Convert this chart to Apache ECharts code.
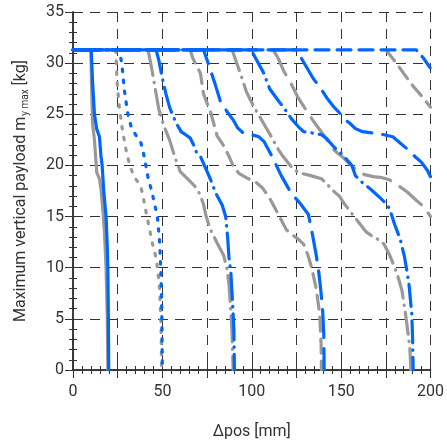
<!DOCTYPE html>
<html><head><meta charset="utf-8">
<script src="https://cdn.jsdelivr.net/npm/echarts@6/dist/echarts.min.js"></script>
<style>html,body{margin:0;padding:0;background:#fff}#c{width:447px;height:446px}</style>
</head><body><div id="c"></div>
<script>
// ---- data ----
const xLabelValues = [0, 50, 100, 150, 200];
const yLabelValues = [0, 5, 10, 15, 20, 25, 30, 35];

const graySolid = [[10,31.3],[10.5,27],[11,24],[12,22.5],[13,20],[13.3,19.3],[14.8,18.7],[15.7,17.6],[17,15],[17.6,13.4],[18.5,10],[19.2,5],[19.5,0]];
const blueSolid = [[0,31.3],[10.2,31.3],[11,28],[12,25],[13.2,23.6],[14.8,22.8],[15.6,21],[16.3,20],[17.2,17.5],[18.5,15],[19.2,12],[19.5,10],[19.8,5],[20,0]];

const grayDotted = [[24,31.3],[24.1,30.8],[24.6,28.3],[25.9,25.7],[27.4,23.8],[29.3,21.8],[31.9,19.9],[34.3,18.9],[38,17.9],[39.3,16.9],[40.7,15.6],[42.2,14.3],[44.4,12.4],[46.3,11.1],[47.4,9.8],[48.5,7.8],[48.9,5.9],[49.3,3.9],[49.6,0]];
const blueDotted = [[0,31.3],[26,31.3],[27.4,29.8],[28.7,27.4],[30.6,25.1],[32.5,23.8],[34.3,23.2],[38,22.2],[39.8,20.9],[42.2,18.6],[43.9,17.6],[47.2,15],[48.5,12.4],[49.1,9.8],[49.6,6.8],[50,0]];

const grayDashDotA = [[42,31.3],[44,29.5],[46,27.5],[48,25.5],[51,23.8],[54,22.5],[57,20.8],[60,19.4],[64,18.7],[68,18],[71,17.2],[73,16.2],[74.5,15],[77,13.7],[81,12.3],[84.3,11.2],[86,10],[87.2,8.5],[88.2,6],[89,3.5],[89.6,0]];
const blueDashDotA = [[0,31.3],[46.5,31.3],[48,30.3],[50,28.5],[52,27],[54,25.7],[56,24.8],[58.5,23.9],[60.5,23.3],[63,23],[65.5,22.7],[67.5,22],[69,21.3],[71.5,20.8],[74,19.8],[77,18.6],[79.8,17.3],[83.5,16.1],[85.4,15],[86.5,13],[87.2,11.1],[88.3,9.5],[89.3,6.5],[90,4],[90.3,0]];

const grayDashedA = [[65.5,31.3],[67,30.5],[71.3,29],[73,27],[77,25.2],[80.6,22.9],[84,22],[87,21],[90,19.8],[93,19.2],[97,18.8],[102,18.4],[106,17.8],[110,16.8],[114,15.5],[119.4,13.7],[122,13.3],[126,12.8],[129,12.3],[131.5,11.2],[133.5,10],[136,8],[138,5.5],[138.8,2.5],[139,0]];
const blueDashedA = [[0,31.3],[73,31.3],[76,29.8],[79.6,27.9],[82.4,26.3],[86,25.3],[89.8,24.4],[92,23.7],[95,23.2],[100,23],[104,22.8],[107,22.3],[111,21],[116.5,19],[122,17.3],[127,16.3],[131.7,15.2],[134,13.2],[135.8,11.5],[137.2,10],[138.5,8],[139.6,6],[140.3,3.5],[140.5,0]];

const grayDashDotB = [[89,31.3],[91,30.3],[94,28.8],[97,27.2],[101,25.8],[106,24.3],[111,22.8],[114,21.8],[117,21],[122,19.9],[126,19.3],[133,19],[139,18.7],[142,18.2],[145,17.6],[149,17],[152,16.2],[156,15.3],[160,14.4],[164,13.5],[168,13],[171.5,12.7],[174,12.3],[177,11.3],[180,10],[182,9],[184,7.8],[186,5.5],[187.5,3.5],[188.5,2],[189,0]];
const blueDashDotB = [[0,31.3],[99.6,31.3],[103,30.2],[106.5,29.1],[110,27.5],[115,26.3],[118.5,25.5],[122,24.6],[126,23.8],[129,23.3],[133,23.2],[136,23.1],[139,23],[142,22.6],[146,21.8],[151,21],[156,20],[158,19],[162,18.3],[167,17.6],[172,16.8],[175,16.3],[177,15.8],[180,14.2],[183,12.8],[185.4,11.1],[186.5,10],[188,8.3],[189.5,5.5],[190,3],[190.3,0]];

const grayDashedB = [[112,31.3],[115,30.4],[118,29.2],[122,28],[126,26.6],[130.5,25.4],[135,24.2],[141,22.8],[144.4,21.8],[148,21.2],[151,20.8],[155,20.1],[159,19.5],[163,19.1],[168,18.9],[173,18.8],[177,18.6],[179.4,18.3],[183,17.9],[187,17.4],[192,16.6],[196,16],[200,15]];
const blueDashedB = [[0,31.3],[125.5,31.3],[128,30.4],[131,29.5],[134.4,28.5],[138.7,27.5],[142,26.6],[146,25.7],[149.3,25.1],[152,24.5],[155,24.1],[158,23.6],[162,23.3],[166,23.2],[170.6,23.1],[174,23],[178.9,22.8],[183,22.2],[187,21.6],[191.7,20.8],[195,20.3],[198.3,19.5],[200,18.9]];

const grayDashedC = [[175,31.3],[180,30.2],[185,29],[190,27.8],[195,26.8],[200,25.7]];
const blueDashedC = [[0,31.3],[192,31.3],[196,30.5],[200,29.5]];

// ---- styles ----
const BLUE = '#0066ff', GRAY = '#999999';
const DOT = [2.5, 8.5], DASHDOT = [26, 7, 0.5, 7], DASHDOT2 = [22, 7, 0.5, 7];
const LONGDASH = [28, 11], DASH = [14, 8];

const defs = [
  [graySolid, GRAY, 'solid'], [grayDotted, GRAY, DOT], [grayDashDotA, GRAY, DASHDOT],
  [grayDashedA, GRAY, DASH], [grayDashDotB, GRAY, DASHDOT2], [grayDashedB, GRAY, LONGDASH],
  [grayDashedC, GRAY, DASH],
  [blueSolid, BLUE, 'solid'], [blueDotted, BLUE, DOT], [blueDashDotA, BLUE, DASHDOT],
  [blueDashedA, BLUE, LONGDASH], [blueDashDotB, BLUE, DASHDOT2], [blueDashedB, BLUE, LONGDASH],
  [blueDashedC, BLUE, DASH]
];

const series = defs.map((d, i) => ({
  type: 'line', data: d[0], symbol: 'none', silent: true,
  z: d[1] === BLUE ? 3 : 2,
  lineStyle: { color: d[1], width: 3.2, type: d[2], cap: 'round', join: 'round' }
}));

const FONT = 'Roboto';
const gridDash = { color: '#333', width: 1, type: [10, 7] };
const axisLineS = { show: true, lineStyle: { color: '#333', width: 1.5 } };

const chart = echarts.init(document.getElementById('c'), null, { renderer: 'canvas' });
chart.setOption({
  animation: false,
  backgroundColor: '#fff',
  grid: { left: 73, right: 14, top: 12, bottom: 76, containLabel: false },
  xAxis: [
    { type: 'value', min: 0, max: 200, interval: 25, position: 'bottom',
      name: 'Δpos [mm]', nameLocation: 'middle', nameGap: 54,
      nameTextStyle: { fontFamily: FONT, fontSize: 16, color: '#333' },
      axisLine: axisLineS,
      axisTick: { show: true, inside: true, length: 8, lineStyle: { color: '#333' } },
      minorTick: { show: true, splitNumber: 5, length: 4, lineStyle: { color: '#333' } },
      axisLabel: { fontFamily: FONT, fontSize: 16, color: '#333', margin: 14,
        formatter: v => xLabelValues.includes(v) ? String(v) : '' },
      splitLine: { show: true, lineStyle: gridDash } },
    { type: 'value', min: 0, max: 200, interval: 25, position: 'top',
      axisLine: axisLineS,
      axisTick: { show: true, inside: true, length: 8, lineStyle: { color: '#333' } },
      minorTick: { show: true, splitNumber: 5, length: 4, lineStyle: { color: '#333' } },
      axisLabel: { show: false }, splitLine: { show: false } }
  ],
  yAxis: [
    { type: 'value', min: 0, max: 35, interval: 5, position: 'left',
      name: '{a|Maximum vertical payload m}{s|y max}{a| [kg]}', nameLocation: 'middle', nameGap: 44, nameRotate: 90,
      nameTextStyle: { fontFamily: FONT, fontSize: 16, color: '#333',
        rich: { a: { fontFamily: FONT, fontSize: 16, color: '#333', lineHeight: 20, verticalAlign: 'bottom' },
                s: { fontFamily: FONT, fontSize: 10, color: '#333', lineHeight: 20, verticalAlign: 'bottom', padding: [0, 0, -1, 1] } } },
      axisLine: axisLineS,
      axisTick: { show: true, inside: true, length: 8, lineStyle: { color: '#333' } },
      minorTick: { show: true, splitNumber: 5, length: 4, lineStyle: { color: '#333' } },
      axisLabel: { fontFamily: FONT, fontSize: 16, color: '#333', margin: 9,
        formatter: v => yLabelValues.includes(v) ? String(v) : '' },
      splitLine: { show: true, lineStyle: gridDash } },
    { type: 'value', min: 0, max: 35, interval: 5, position: 'right',
      axisLine: axisLineS,
      axisTick: { show: true, inside: true, length: 8, lineStyle: { color: '#333' } },
      minorTick: { show: true, splitNumber: 5, length: 4, lineStyle: { color: '#333' } },
      axisLabel: { show: false }, splitLine: { show: false } }
  ],
  series: series
});
</script></body></html>
